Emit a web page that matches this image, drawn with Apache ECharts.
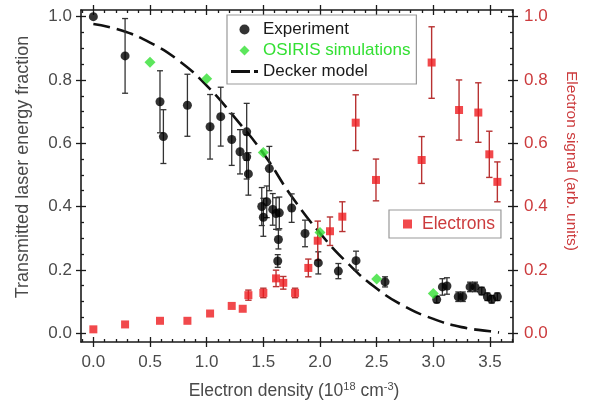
<!DOCTYPE html>
<html><head><meta charset="utf-8">
<script src="https://cdn.jsdelivr.net/npm/echarts@6/dist/echarts.min.js"></script>
<style>html,body{margin:0;padding:0;background:#fff}#c{width:590px;height:405px}</style>
</head><body><div id="c"></div>
<script>
// ---- tick labels ----
const xTickLabels = [0, 0.5, 1.0, 1.5, 2.0, 2.5, 3.0, 3.5];
const yTickLabels = [0, 0.2, 0.4, 0.6, 0.8, 1.0];

// ---- Experiment (black circles) ----
const expX   = [0, 0.28, 0.588, 0.618, 0.83, 1.03, 1.124, 1.221, 1.294, 1.353, 1.353, 1.368, 1.553, 1.486, 1.50, 1.53, 1.583, 1.612, 1.641, 1.633, 1.627, 1.75, 1.868, 1.985, 2.162, 2.318, 2.574, 3.03, 3.08, 3.12, 3.22, 3.26, 3.324, 3.368, 3.427, 3.477, 3.515, 3.565];
const expY   = [1.0, 0.876, 0.731, 0.621, 0.72, 0.652, 0.684, 0.612, 0.573, 0.636, 0.557, 0.503, 0.52, 0.40, 0.366, 0.415, 0.391, 0.378, 0.38, 0.296, 0.228, 0.395, 0.315, 0.222, 0.196, 0.229, 0.162, 0.106, 0.146, 0.149, 0.115, 0.115, 0.146, 0.146, 0.133, 0.115, 0.107, 0.115];
const expErr = [0, 0.118, 0.098, 0.085, 0.098, 0.102, 0.093, 0.082, 0.07, 0.09, 0.07, 0.067, 0.07, 0.06, 0.06, 0.05, 0.05, 0.05, 0.05, 0.03, 0.02, 0.045, 0.042, 0.035, 0.024, 0.03, 0.016, 0.01, 0.026, 0.026, 0.015, 0.015, 0.015, 0.015, 0.012, 0.012, 0.012, 0.012];

// ---- OSIRIS simulations (green diamonds) ----
const osirisX = [0.5, 1.0, 1.5, 2.0, 2.5, 3.0];
const osirisY = [0.856, 0.804, 0.571, 0.318, 0.171, 0.125];

// ---- Decker model (dashed line) ----
const deckerX = [0, 0.25, 0.5, 0.75, 1.0, 1.25, 1.5, 1.75, 2.0, 2.25, 2.5, 2.75, 3.0, 3.25, 3.5, 3.58];
const deckerY = [0.977, 0.956, 0.918, 0.862, 0.782, 0.680, 0.568, 0.432, 0.316, 0.219, 0.141, 0.084, 0.045, 0.019, 0.006, 0.002];

// ---- Electrons (red squares, right axis) ----
const elecX   = [0, 0.28, 0.588, 0.83, 1.03, 1.221, 1.318, 1.368, 1.5, 1.612, 1.676, 1.78, 1.897, 1.98, 2.088, 2.197, 2.315, 2.494, 2.897, 2.985, 3.227, 3.397, 3.494, 3.565];
const elecY   = [0.012, 0.0275, 0.039, 0.039, 0.062, 0.086, 0.077, 0.12, 0.127, 0.173, 0.159, 0.127, 0.206, 0.292, 0.322, 0.368, 0.665, 0.484, 0.547, 0.855, 0.705, 0.697, 0.565, 0.478];
const elecErr = [0, 0, 0, 0, 0, 0, 0, 0.016, 0.015, 0.026, 0.02, 0.015, 0.028, 0.062, 0.045, 0.047, 0.088, 0.066, 0.074, 0.113, 0.095, 0.094, 0.073, 0.063];

// ---------------------------------------------
const FONT = "'Liberation Sans', Arial, sans-serif";
const AXC = '#1a1a1a';
const LABC = '#4a4a4a';
const RED = '#cc3b3d';
const GREEN = '#33e033';
const X_MIN = -0.109, X_MAX = 3.703, Y_MIN = -0.028, Y_MAX = 1.021;

function minorOf(majors, step, lo, hi) {
  const out = [];
  for (let v = majors[0] - 5 * step; v <= majors[majors.length - 1] + 5 * step + 1e-9; v += step) {
    const r = Math.round(v * 1000) / 1000;
    if (r < lo || r > hi) continue;
    if (majors.some(m => Math.abs(m - r) < 1e-6)) continue;
    out.push(r);
  }
  return out;
}
const xMinor = minorOf(xTickLabels, 0.1, X_MIN, X_MAX);
const yMinor = minorOf(yTickLabels, 0.05, Y_MIN, Y_MAX);

function axis(pos, min, max, ticks, o) {
  return {
    type: 'value', position: pos, min: min, max: max,
    axisLine: { show: !!o.line, onZero: false, lineStyle: { color: AXC, width: 1.6 } },
    axisTick: { show: true, customValues: ticks, inside: !!o.inside, length: o.len, lineStyle: { color: AXC, width: 1.3 } },
    axisLabel: o.label ? { show: true, customValues: ticks, formatter: v => v.toFixed(1),
      fontFamily: FONT, fontSize: 17, color: o.color || LABC, margin: o.margin } : { show: false },
    splitLine: { show: false }
  };
}

const xAxes = [
  axis('bottom', X_MIN, X_MAX, xTickLabels, { line: true, inside: false, len: 5, label: true, margin: 12 }),
  axis('bottom', X_MIN, X_MAX, xTickLabels, { inside: true, len: 5 }),
  axis('bottom', X_MIN, X_MAX, xMinor, { inside: true, len: 3 }),
  axis('top', X_MIN, X_MAX, xTickLabels, { line: true, inside: false, len: 5 }),
  axis('top', X_MIN, X_MAX, xTickLabels, { inside: true, len: 5 }),
  axis('top', X_MIN, X_MAX, xMinor, { inside: true, len: 3 })
];
const yAxes = [
  axis('left', Y_MIN, Y_MAX, yTickLabels, { line: true, inside: false, len: 5, label: true, margin: 9 }),
  axis('left', Y_MIN, Y_MAX, yTickLabels, { inside: true, len: 5 }),
  axis('left', Y_MIN, Y_MAX, yMinor, { inside: true, len: 3 }),
  axis('right', Y_MIN, Y_MAX, yTickLabels, { line: true, inside: false, len: 5, label: true, margin: 11, color: RED }),
  axis('right', Y_MIN, Y_MAX, yTickLabels, { inside: true, len: 5 }),
  axis('right', Y_MIN, Y_MAX, yMinor, { inside: true, len: 3 })
];

function zip3(a, b, c) { return a.map((v, i) => c ? [v, b[i], c[i]] : [v, b[i]]); }

function errRender(color, cap, width) {
  return function (params, api) {
    const x = api.value(0), y = api.value(1), e = api.value(2);
    if (!e) return null;
    const p1 = api.coord([x, y + e]);
    const p2 = api.coord([x, y - e]);
    const st = { stroke: color, lineWidth: width };
    return { type: 'group', children: [
      { type: 'line', shape: { x1: p1[0], y1: p1[1], x2: p2[0], y2: p2[1] }, style: st },
      { type: 'line', shape: { x1: p1[0] - cap, y1: p1[1], x2: p1[0] + cap, y2: p1[1] }, style: st },
      { type: 'line', shape: { x1: p2[0] - cap, y1: p2[1], x2: p2[0] + cap, y2: p2[1] }, style: st }
    ] };
  };
}

const chart = echarts.init(document.getElementById('c'), null, { renderer: 'canvas' });
chart.setOption({
  animation: false,
  backgroundColor: '#fff',
  textStyle: { fontFamily: FONT },
  grid: { left: 81, right: 77, top: 10, bottom: 63, containLabel: false },
  xAxis: xAxes,
  yAxis: yAxes,
  legend: [
    {
      orient: 'vertical', left: 227, top: 15,
      data: [
        { name: 'Experiment', icon: 'circle', itemStyle: { color: '#000' }, textStyle: { color: '#1a1a1a' } },
        { name: 'OSIRIS simulations', icon: 'path://M5,0L10,5L5,10L0,5Z', itemStyle: { color: GREEN }, textStyle: { color: GREEN } },
        { name: 'Decker model', icon: 'path://M0,0H19V3H0Z M23,0H27V3H23Z', itemStyle: { color: '#111' }, textStyle: { color: '#1a1a1a' } }
      ],
      symbolKeepAspect: true,
      itemWidth: 27, itemHeight: 10, itemGap: 4,
      padding: [6, 6, 4, 4],
      borderColor: '#999', borderWidth: 1.2, backgroundColor: '#fff',
      textStyle: { fontFamily: FONT, fontSize: 17 },
      selectedMode: false
    },
    {
      orient: 'vertical', left: 389, top: 210,
      data: [{ name: 'Electrons', icon: 'rect', textStyle: { color: RED, padding: [0, 0, 0, 5] } }],
      symbolKeepAspect: true,
      itemWidth: 9, itemHeight: 9, itemGap: 4,
      padding: [5, 6, 5, 14],
      borderColor: '#999', borderWidth: 1.2, backgroundColor: '#fff',
      textStyle: { fontFamily: FONT, fontSize: 17.5 },
      selectedMode: false
    }
  ],
  graphic: [
    { type: 'text', x: 23, y: 167, rotation: Math.PI / 2,
      style: { text: 'Transmitted laser energy fraction', x: 0, y: 0, align: 'center', verticalAlign: 'middle', font: "18px 'Liberation Sans', Arial, sans-serif", fill: LABC } },
    { type: 'text', x: 571, y: 161, rotation: -Math.PI / 2,
      style: { text: 'Electron signal (arb. units)', x: 0, y: 0, align: 'center', verticalAlign: 'middle', font: "15.5px 'Liberation Sans', Arial, sans-serif", fill: RED } },
    { type: 'text', x: 294, y: 391,
      style: { text: '{n|Electron density (10}{s|18}{n| cm}{s|-3}{n|)}', x: 0, y: 0, align: 'center', verticalAlign: 'middle',
        rich: { n: { fontFamily: FONT, fontSize: 17.5, fill: LABC, color: LABC },
                s: { fontFamily: FONT, fontSize: 11, fill: LABC, color: LABC, padding: [0, 0, 9, 0] } } } }
  ],
  series: [
    { name: 'Decker model', type: 'line', xAxisIndex: 0, yAxisIndex: 0, data: zip3(deckerX, deckerY),
      smooth: true, symbol: 'none', z: 2,
      lineStyle: { color: '#111', width: 2.6, type: [17, 7] }, itemStyle: { color: '#111' } },
    { name: 'ExpErr', type: 'custom', xAxisIndex: 0, yAxisIndex: 0, data: zip3(expX, expY, expErr),
      renderItem: errRender('#333', 3, 1.3), z: 3, encode: { x: 0, y: 1 } },
    { name: 'ElecErr', type: 'custom', xAxisIndex: 0, yAxisIndex: 3, data: zip3(elecX, elecY, elecErr),
      renderItem: errRender('#b83232', 3.2, 1.4), z: 3, encode: { x: 0, y: 1 } },
    { name: 'Experiment', type: 'scatter', xAxisIndex: 0, yAxisIndex: 0, data: zip3(expX, expY),
      symbol: 'circle', symbolSize: 9, itemStyle: { color: '#000' }, z: 4 },
    { name: 'OSIRIS simulations', type: 'scatter', xAxisIndex: 0, yAxisIndex: 0, data: zip3(osirisX, osirisY),
      symbol: 'diamond', symbolSize: 11, itemStyle: { color: GREEN }, z: 5 },
    { name: 'Electrons', type: 'scatter', xAxisIndex: 0, yAxisIndex: 3, data: zip3(elecX, elecY),
      symbol: 'rect', symbolSize: 8, itemStyle: { color: '#ee1b1f' }, z: 4 }
  ]
});
</script>
</body></html>
